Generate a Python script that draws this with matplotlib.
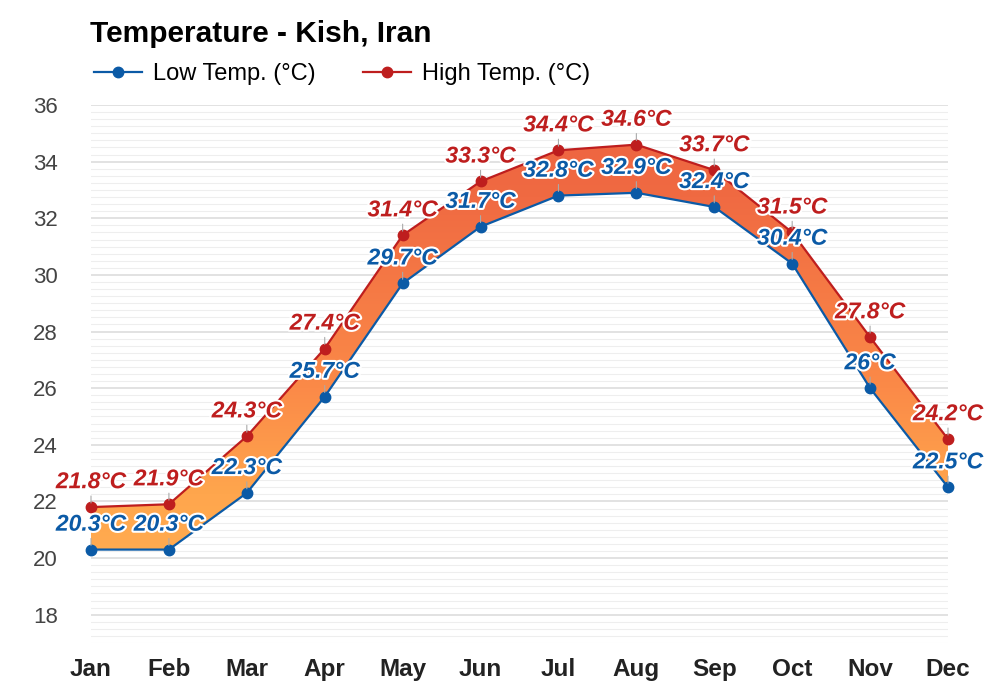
import matplotlib
matplotlib.use("Agg")
import matplotlib.pyplot as plt
import matplotlib.patheffects as pe
import numpy as np
from matplotlib.colors import LinearSegmentedColormap

plt.rcParams['font.family'] = ['Liberation Sans', 'DejaVu Sans']

months = ['Jan', 'Feb', 'Mar', 'Apr', 'May', 'Jun', 'Jul', 'Aug', 'Sep', 'Oct', 'Nov', 'Dec']
low = [20.3, 20.3, 22.3, 25.7, 29.7, 31.7, 32.8, 32.9, 32.4, 30.4, 26.0, 22.5]
high = [21.8, 21.9, 24.3, 27.4, 31.4, 33.3, 34.4, 34.6, 33.7, 31.5, 27.8, 24.2]
low_labels = ['20.3°C', '20.3°C', '22.3°C', '25.7°C', '29.7°C', '31.7°C', '32.8°C', '32.9°C', '32.4°C', '30.4°C', '26°C', '22.5°C']
high_labels = ['21.8°C', '21.9°C', '24.3°C', '27.4°C', '31.4°C', '33.3°C', '34.4°C', '34.6°C', '33.7°C', '31.5°C', '27.8°C', '24.2°C']
yticks = [18, 20, 22, 24, 26, 28, 30, 32, 34, 36]

LOW_C = '#0b5aa6'
HIGH_C = '#be1e1e'

fig = plt.figure(figsize=(10, 7), dpi=100)
ax = fig.add_axes([0.091, 0.0814, 0.857, 0.7686])
x = np.arange(len(months))

ax.set_xlim(0, len(months) - 1)
ax.set_ylim(17, 36)

# gridlines
ax.set_axisbelow(True)
ax.set_yticks(yticks)
ax.set_yticks(np.arange(17, 36.01, 0.25), minor=True)
ax.grid(which='major', axis='y', color='#dddddd', lw=1.2)
ax.grid(which='minor', axis='y', color='#eeeeee', lw=0.8)
ax.tick_params(axis='both', which='both', length=0)
for s in ax.spines.values():
    s.set_visible(False)

# gradient fill between low and high
poly = ax.fill_between(x, low, high, color='none', lw=0, zorder=1)
cmap = LinearSegmentedColormap.from_list(
    'g', [(0.0, '#ffab50'), (0.15, '#ffa64d'), (0.4, '#fb8a48'), (0.85, '#f06a42'), (1.0, '#ee6541')])
grad = np.linspace(0, 1, 256).reshape(-1, 1)
im = ax.imshow(grad, extent=[0, len(months) - 1, 20, 35], origin='lower', aspect='auto',
               cmap=cmap, zorder=1, interpolation='bilinear')
path = poly.get_paths()[0]
im.set_clip_path(path, transform=ax.transData)

ax.plot(x, low, color=LOW_C, lw=1.6, marker='o', ms=7.5, label='Low Temp. (°C)', zorder=3, clip_on=False)
ax.plot(x, high, color=HIGH_C, lw=1.6, marker='o', ms=7.5, label='High Temp. (°C)', zorder=3, clip_on=False)

stroke = [pe.withStroke(linewidth=3, foreground='white')]
for xi, v, t in zip(x, low, low_labels):
    ax.annotate(t, (xi, v), xytext=(0, 10), textcoords='offset points', ha='center', va='bottom',
                fontsize=16.5, fontweight='bold', fontstyle='italic', color=LOW_C,
                path_effects=stroke, zorder=5,
                arrowprops=dict(arrowstyle='-', color='#aaaaaa', lw=0.8, shrinkA=0, shrinkB=3))
for xi, v, t in zip(x, high, high_labels):
    ax.annotate(t, (xi, v), xytext=(0, 10), textcoords='offset points', ha='center', va='bottom',
                fontsize=16.5, fontweight='bold', fontstyle='italic', color=HIGH_C,
                path_effects=stroke, zorder=5,
                arrowprops=dict(arrowstyle='-', color='#aaaaaa', lw=0.8, shrinkA=0, shrinkB=3))

ax.set_xticks(x)
ax.set_xticklabels(months, fontsize=17.5, fontweight='bold', color='#222222')
ax.tick_params(axis='x', pad=11)
ax.set_yticklabels([str(t) for t in yticks], fontsize=16, color='#444444')
ax.tick_params(axis='y', pad=24)

fig.text(0.09, 0.951, 'Temperature - Kish, Iran', fontsize=21.5, fontweight='bold', ha='left', va='center')
ax.legend(loc='lower left', bbox_to_anchor=(-0.007, 1.019), ncol=2, frameon=False, fontsize=17,
          handlelength=2.0, columnspacing=2.0, handletextpad=0.5, borderaxespad=0)

fig.savefig('out.png', dpi=100, facecolor='white')
